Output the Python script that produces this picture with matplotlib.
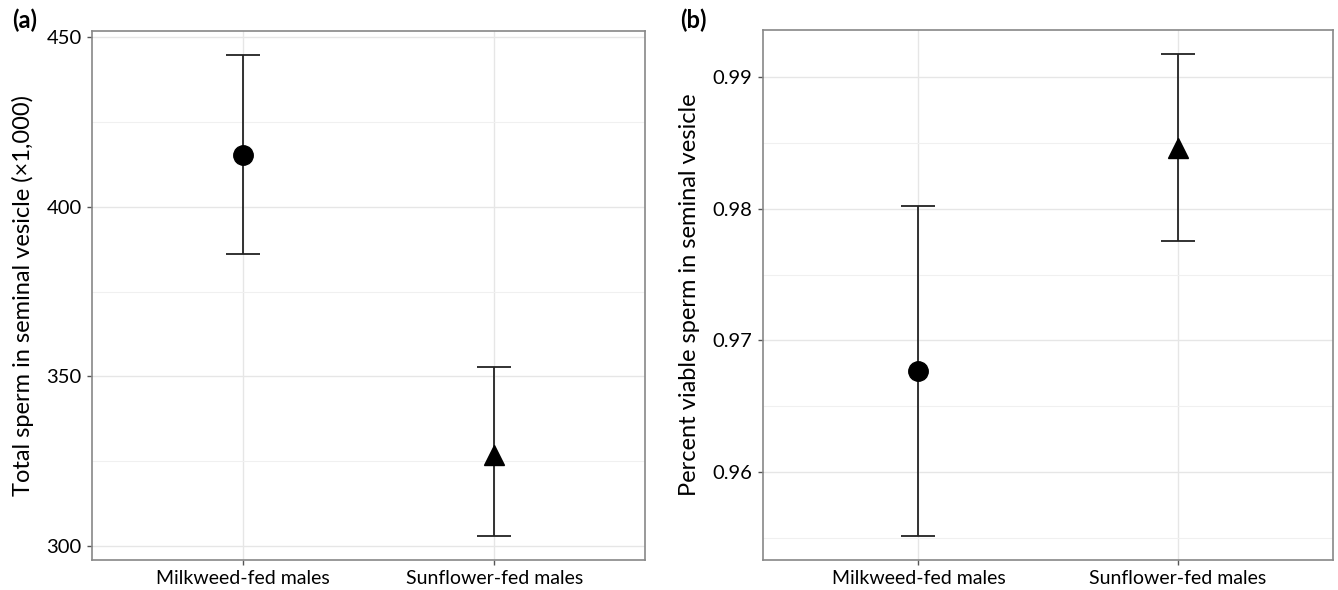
import matplotlib
matplotlib.use("Agg")
import matplotlib.pyplot as plt
import numpy as np

plt.rcParams['font.family'] = ['Lato', 'DejaVu Sans']

categories = ["Milkweed-fed males", "Sunflower-fed males"]
markers = ["o", "^"]

total_mean = [415.3, 327.0]
total_low = [386.2, 303.0]
total_high = [444.7, 352.7]

viable_mean = [0.96765, 0.98462]
viable_low = [0.95515, 0.97758]
viable_high = [0.9802, 0.99174]

total_major = [300, 350, 400, 450]
total_minor = [325, 375, 425]
viable_major = [0.96, 0.97, 0.98, 0.99]
viable_minor = [0.955, 0.965, 0.975, 0.985]

W, H = 1338, 590
fig = plt.figure(figsize=(W / 100, H / 100), dpi=100)

def make_ax(l, t, r, b):
    return fig.add_axes([l / W, 1 - b / H, (r - l) / W, (b - t) / H])

ax1 = make_ax(92, 31, 645, 560)
ax2 = make_ax(763, 30, 1333, 560)

def draw(ax, mean, low, high, major, minor, ylabel, fmt):
    x = np.arange(1, len(categories) + 1)
    for xi, m, lo, hi, mk in zip(x, mean, low, high, markers):
        ax.errorbar([xi], [m], yerr=[[m - lo], [hi - m]], fmt='none',
                    ecolor='#222222', elinewidth=1.3, capsize=12.5, capthick=1.3, zorder=3)
        ax.plot([xi], [m], marker=mk, color='black', markersize=14 if mk == 'o' else 15,
                linestyle='none', zorder=4)
    allv = list(low) + list(high)
    lo_, hi_ = min(allv), max(allv)
    pad = (hi_ - lo_) * 0.05
    ax.set_ylim(lo_ - pad, hi_ + pad)
    ax.set_xlim(0.4, len(categories) + 0.6)
    ax.set_xticks(x)
    ax.set_xticklabels(categories, fontsize=14)
    ax.set_yticks(major)
    ax.set_yticklabels([fmt(v) for v in major], fontsize=14.5)
    ax.set_yticks(minor, minor=True)
    ax.tick_params(axis='y', which='minor', length=0)
    ax.tick_params(axis='both', which='major', length=3.5, color='#555555', width=1.0, labelcolor='black', pad=4)
    ax.grid(True, which='major', color='#e6e6e6', linewidth=1.0, zorder=0)
    ax.grid(True, which='minor', axis='y', color='#f0f0f0', linewidth=0.8, zorder=0)
    ax.set_axisbelow(True)
    for s in ax.spines.values():
        s.set_color('#888888')
        s.set_linewidth(1.2)
    ax.set_ylabel(ylabel, fontsize=17, labelpad=9)

draw(ax1, total_mean, total_low, total_high, total_major, total_minor,
     "Total sperm in seminal vesicle (\u00d71,000)", lambda v: f"{v:.0f}")
draw(ax2, viable_mean, viable_low, viable_high, viable_major, viable_minor,
     "Percent viable sperm in seminal vesicle", lambda v: f"{v:.2f}")

fig.text(12 / W, 1 - 20 / H, "(a)", fontsize=17, fontweight='bold', va='center', ha='left')
fig.text(680 / W, 1 - 20 / H, "(b)", fontsize=17, fontweight='bold', va='center', ha='left')

fig.savefig("out.png", dpi=100, facecolor='white')
